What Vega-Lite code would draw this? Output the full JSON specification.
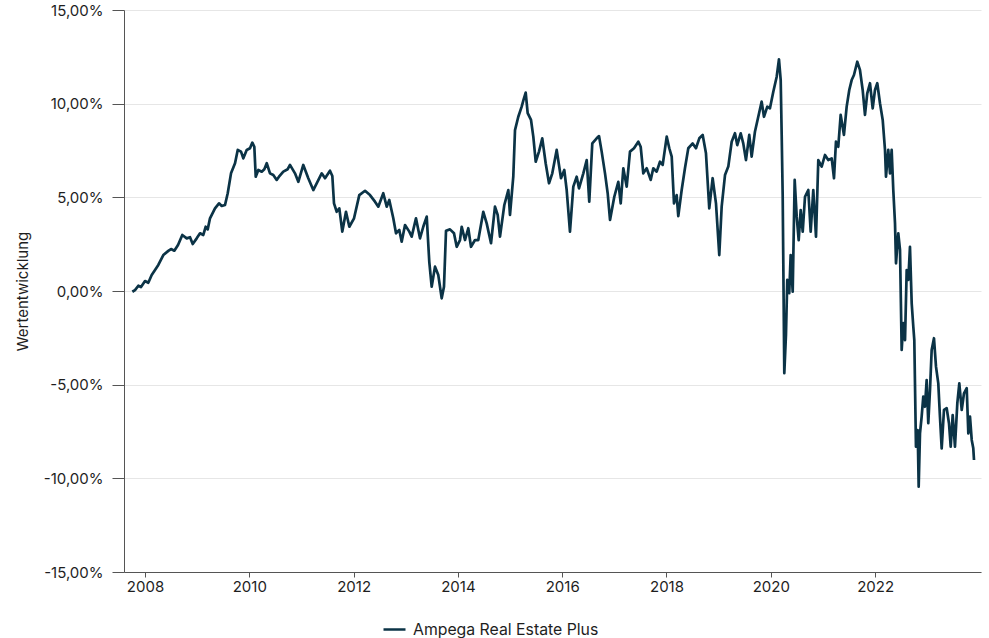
{
  "$schema": "https://vega.github.io/schema/vega-lite/v6.json",
  "width": 857,
  "height": 562,
  "autosize": {"type": "none"},
  "padding": {"left": 124, "top": 10, "right": 8, "bottom": 66},
  "background": "white",
  "config": {
    "font": "Inter",
    "view": {"stroke": null},
    "axis": {"labelFont": "Inter", "titleFont": "Inter", "labelFontSize": 15, "titleFontSize": 15, "labelColor": "#1e1e1e", "titleColor": "#1e1e1e", "domainColor": "#555555", "tickColor": "#555555", "titleFontWeight": "normal"},
    "legend": {"labelFont": "Inter", "labelFontSize": 15.8, "labelColor": "#1e1e1e", "labelLimit": 0}
  },
  "data": {"values": [
    {"jahr": 2007.757, "wert": -0.04}, {"jahr": 2007.808, "wert": 0.05}, {"jahr": 2007.872, "wert": 0.28}, {"jahr": 2007.923, "wert": 0.21},
    {"jahr": 2008.000, "wert": 0.53}, {"jahr": 2008.063, "wert": 0.44}, {"jahr": 2008.128, "wert": 0.85}, {"jahr": 2008.192, "wert": 1.12},
    {"jahr": 2008.255, "wert": 1.39}, {"jahr": 2008.351, "wert": 1.92}, {"jahr": 2008.447, "wert": 2.14}, {"jahr": 2008.499, "wert": 2.24},
    {"jahr": 2008.562, "wert": 2.15}, {"jahr": 2008.633, "wert": 2.46}, {"jahr": 2008.715, "wert": 2.99}, {"jahr": 2008.800, "wert": 2.81},
    {"jahr": 2008.863, "wert": 2.87}, {"jahr": 2008.915, "wert": 2.51}, {"jahr": 2008.991, "wert": 2.81}, {"jahr": 2009.055, "wert": 3.08},
    {"jahr": 2009.118, "wert": 2.99}, {"jahr": 2009.164, "wert": 3.43}, {"jahr": 2009.202, "wert": 3.29}, {"jahr": 2009.246, "wert": 3.88},
    {"jahr": 2009.342, "wert": 4.41}, {"jahr": 2009.419, "wert": 4.68}, {"jahr": 2009.471, "wert": 4.54}, {"jahr": 2009.534, "wert": 4.59},
    {"jahr": 2009.586, "wert": 5.22}, {"jahr": 2009.649, "wert": 6.28}, {"jahr": 2009.726, "wert": 6.82}, {"jahr": 2009.778, "wert": 7.53},
    {"jahr": 2009.841, "wert": 7.44}, {"jahr": 2009.885, "wert": 7.08}, {"jahr": 2009.950, "wert": 7.53}, {"jahr": 2010.013, "wert": 7.62},
    {"jahr": 2010.058, "wert": 7.92}, {"jahr": 2010.096, "wert": 7.70}, {"jahr": 2010.123, "wert": 6.10}, {"jahr": 2010.173, "wert": 6.46},
    {"jahr": 2010.238, "wert": 6.37}, {"jahr": 2010.288, "wert": 6.50}, {"jahr": 2010.334, "wert": 6.82}, {"jahr": 2010.397, "wert": 6.28},
    {"jahr": 2010.460, "wert": 6.19}, {"jahr": 2010.525, "wert": 5.93}, {"jahr": 2010.569, "wert": 6.10}, {"jahr": 2010.652, "wert": 6.37},
    {"jahr": 2010.736, "wert": 6.50}, {"jahr": 2010.780, "wert": 6.73}, {"jahr": 2010.876, "wert": 6.28}, {"jahr": 2010.940, "wert": 5.83},
    {"jahr": 2011.035, "wert": 6.73}, {"jahr": 2011.131, "wert": 6.02}, {"jahr": 2011.227, "wert": 5.39}, {"jahr": 2011.292, "wert": 5.75},
    {"jahr": 2011.388, "wert": 6.28}, {"jahr": 2011.452, "wert": 6.02}, {"jahr": 2011.547, "wert": 6.42}, {"jahr": 2011.592, "wert": 6.14},
    {"jahr": 2011.624, "wert": 4.68}, {"jahr": 2011.676, "wert": 4.23}, {"jahr": 2011.726, "wert": 4.41}, {"jahr": 2011.783, "wert": 3.17},
    {"jahr": 2011.854, "wert": 4.23}, {"jahr": 2011.918, "wert": 3.43}, {"jahr": 2012.008, "wert": 3.88}, {"jahr": 2012.109, "wert": 5.12},
    {"jahr": 2012.219, "wert": 5.35}, {"jahr": 2012.314, "wert": 5.12}, {"jahr": 2012.410, "wert": 4.77}, {"jahr": 2012.474, "wert": 4.50},
    {"jahr": 2012.569, "wert": 5.22}, {"jahr": 2012.635, "wert": 4.50}, {"jahr": 2012.684, "wert": 4.86}, {"jahr": 2012.761, "wert": 3.88},
    {"jahr": 2012.813, "wert": 3.08}, {"jahr": 2012.876, "wert": 3.26}, {"jahr": 2012.922, "wert": 2.63}, {"jahr": 2012.986, "wert": 3.52},
    {"jahr": 2013.068, "wert": 3.17}, {"jahr": 2013.114, "wert": 2.90}, {"jahr": 2013.196, "wert": 3.88}, {"jahr": 2013.273, "wert": 2.81},
    {"jahr": 2013.336, "wert": 3.43}, {"jahr": 2013.402, "wert": 3.97}, {"jahr": 2013.451, "wert": 1.56}, {"jahr": 2013.497, "wert": 0.23},
    {"jahr": 2013.561, "wert": 1.30}, {"jahr": 2013.624, "wert": 0.85}, {"jahr": 2013.689, "wert": -0.39}, {"jahr": 2013.733, "wert": 0.23},
    {"jahr": 2013.772, "wert": 3.22}, {"jahr": 2013.848, "wert": 3.29}, {"jahr": 2013.925, "wert": 3.08}, {"jahr": 2013.977, "wert": 2.36},
    {"jahr": 2014.040, "wert": 2.72}, {"jahr": 2014.073, "wert": 3.43}, {"jahr": 2014.136, "wert": 2.72}, {"jahr": 2014.199, "wert": 3.35},
    {"jahr": 2014.251, "wert": 2.36}, {"jahr": 2014.328, "wert": 2.72}, {"jahr": 2014.391, "wert": 2.72}, {"jahr": 2014.487, "wert": 4.23},
    {"jahr": 2014.552, "wert": 3.61}, {"jahr": 2014.635, "wert": 2.55}, {"jahr": 2014.711, "wert": 4.50}, {"jahr": 2014.763, "wert": 4.06},
    {"jahr": 2014.807, "wert": 2.90}, {"jahr": 2014.890, "wert": 4.59}, {"jahr": 2014.967, "wert": 5.39}, {"jahr": 2014.999, "wert": 4.06},
    {"jahr": 2015.062, "wert": 6.10}, {"jahr": 2015.095, "wert": 8.59}, {"jahr": 2015.158, "wert": 9.30}, {"jahr": 2015.223, "wert": 9.84},
    {"jahr": 2015.258, "wert": 10.20}, {"jahr": 2015.300, "wert": 10.59}, {"jahr": 2015.338, "wert": 9.49}, {"jahr": 2015.402, "wert": 9.13},
    {"jahr": 2015.446, "wert": 8.24}, {"jahr": 2015.492, "wert": 6.90}, {"jahr": 2015.555, "wert": 7.44}, {"jahr": 2015.618, "wert": 8.15},
    {"jahr": 2015.683, "wert": 6.82}, {"jahr": 2015.747, "wert": 5.75}, {"jahr": 2015.810, "wert": 6.28}, {"jahr": 2015.894, "wert": 7.53},
    {"jahr": 2015.977, "wert": 6.02}, {"jahr": 2016.040, "wert": 6.46}, {"jahr": 2016.086, "wert": 5.39}, {"jahr": 2016.149, "wert": 3.17},
    {"jahr": 2016.213, "wert": 5.57}, {"jahr": 2016.278, "wert": 6.10}, {"jahr": 2016.322, "wert": 5.48}, {"jahr": 2016.405, "wert": 6.28},
    {"jahr": 2016.470, "wert": 6.99}, {"jahr": 2016.519, "wert": 4.77}, {"jahr": 2016.577, "wert": 7.88}, {"jahr": 2016.661, "wert": 8.15},
    {"jahr": 2016.706, "wert": 8.27}, {"jahr": 2016.757, "wert": 7.44}, {"jahr": 2016.821, "wert": 6.28}, {"jahr": 2016.872, "wert": 5.22},
    {"jahr": 2016.917, "wert": 3.79}, {"jahr": 2016.999, "wert": 5.03}, {"jahr": 2017.076, "wert": 5.83}, {"jahr": 2017.122, "wert": 4.68},
    {"jahr": 2017.172, "wert": 6.55}, {"jahr": 2017.237, "wert": 5.57}, {"jahr": 2017.300, "wert": 7.44}, {"jahr": 2017.377, "wert": 7.62},
    {"jahr": 2017.459, "wert": 7.97}, {"jahr": 2017.505, "wert": 7.70}, {"jahr": 2017.555, "wert": 6.28}, {"jahr": 2017.620, "wert": 6.55},
    {"jahr": 2017.697, "wert": 5.93}, {"jahr": 2017.747, "wert": 6.55}, {"jahr": 2017.812, "wert": 6.37}, {"jahr": 2017.875, "wert": 6.90},
    {"jahr": 2017.927, "wert": 6.73}, {"jahr": 2018.004, "wert": 8.24}, {"jahr": 2018.054, "wert": 7.62}, {"jahr": 2018.100, "wert": 7.17},
    {"jahr": 2018.144, "wert": 4.68}, {"jahr": 2018.195, "wert": 5.12}, {"jahr": 2018.226, "wert": 4.00}, {"jahr": 2018.291, "wert": 5.39},
    {"jahr": 2018.354, "wert": 6.55}, {"jahr": 2018.418, "wert": 7.62}, {"jahr": 2018.502, "wert": 7.88}, {"jahr": 2018.565, "wert": 7.62},
    {"jahr": 2018.629, "wert": 8.15}, {"jahr": 2018.694, "wert": 8.33}, {"jahr": 2018.757, "wert": 7.35}, {"jahr": 2018.820, "wert": 4.41},
    {"jahr": 2018.885, "wert": 6.02}, {"jahr": 2018.949, "wert": 4.68}, {"jahr": 2019.012, "wert": 1.92}, {"jahr": 2019.058, "wert": 4.50},
    {"jahr": 2019.122, "wert": 6.19}, {"jahr": 2019.185, "wert": 6.64}, {"jahr": 2019.250, "wert": 7.97}, {"jahr": 2019.313, "wert": 8.42},
    {"jahr": 2019.357, "wert": 7.79}, {"jahr": 2019.423, "wert": 8.42}, {"jahr": 2019.472, "wert": 7.88}, {"jahr": 2019.524, "wert": 6.99},
    {"jahr": 2019.587, "wert": 8.33}, {"jahr": 2019.633, "wert": 7.17}, {"jahr": 2019.696, "wert": 8.50}, {"jahr": 2019.760, "wert": 9.30},
    {"jahr": 2019.825, "wert": 10.11}, {"jahr": 2019.869, "wert": 9.30}, {"jahr": 2019.933, "wert": 9.84}, {"jahr": 2019.984, "wert": 9.75},
    {"jahr": 2020.048, "wert": 10.64}, {"jahr": 2020.113, "wert": 11.44}, {"jahr": 2020.157, "wert": 12.37}, {"jahr": 2020.190, "wert": 11.26},
    {"jahr": 2020.209, "wert": 8.33}, {"jahr": 2020.228, "wert": 5.12}, {"jahr": 2020.240, "wert": 1.48}, {"jahr": 2020.259, "wert": -4.39},
    {"jahr": 2020.291, "wert": -2.35}, {"jahr": 2020.316, "wert": 0.59}, {"jahr": 2020.354, "wert": -0.12}, {"jahr": 2020.381, "wert": 1.92},
    {"jahr": 2020.420, "wert": -0.04}, {"jahr": 2020.458, "wert": 5.93}, {"jahr": 2020.497, "wert": 3.97}, {"jahr": 2020.535, "wert": 2.72},
    {"jahr": 2020.573, "wert": 4.32}, {"jahr": 2020.612, "wert": 3.17}, {"jahr": 2020.656, "wert": 5.03}, {"jahr": 2020.719, "wert": 5.39},
    {"jahr": 2020.765, "wert": 3.17}, {"jahr": 2020.815, "wert": 5.39}, {"jahr": 2020.867, "wert": 2.90}, {"jahr": 2020.911, "wert": 6.99},
    {"jahr": 2020.976, "wert": 6.64}, {"jahr": 2021.039, "wert": 7.26}, {"jahr": 2021.102, "wert": 6.99}, {"jahr": 2021.168, "wert": 7.08},
    {"jahr": 2021.212, "wert": 6.02}, {"jahr": 2021.250, "wert": 7.97}, {"jahr": 2021.294, "wert": 7.70}, {"jahr": 2021.340, "wert": 9.40},
    {"jahr": 2021.403, "wert": 8.33}, {"jahr": 2021.455, "wert": 9.84}, {"jahr": 2021.505, "wert": 10.73}, {"jahr": 2021.551, "wert": 11.26},
    {"jahr": 2021.595, "wert": 11.53}, {"jahr": 2021.658, "wert": 12.24}, {"jahr": 2021.710, "wert": 11.80}, {"jahr": 2021.762, "wert": 10.73},
    {"jahr": 2021.806, "wert": 9.40}, {"jahr": 2021.850, "wert": 10.55}, {"jahr": 2021.902, "wert": 11.09}, {"jahr": 2021.954, "wert": 9.75},
    {"jahr": 2021.998, "wert": 10.73}, {"jahr": 2022.042, "wert": 11.09}, {"jahr": 2022.094, "wert": 10.02}, {"jahr": 2022.146, "wert": 9.13},
    {"jahr": 2022.190, "wert": 7.53}, {"jahr": 2022.209, "wert": 6.10}, {"jahr": 2022.253, "wert": 7.53}, {"jahr": 2022.286, "wert": 6.28},
    {"jahr": 2022.318, "wert": 7.53}, {"jahr": 2022.349, "wert": 5.39}, {"jahr": 2022.382, "wert": 3.61}, {"jahr": 2022.401, "wert": 1.48},
    {"jahr": 2022.445, "wert": 3.08}, {"jahr": 2022.478, "wert": 2.19}, {"jahr": 2022.510, "wert": -3.15}, {"jahr": 2022.541, "wert": -1.72},
    {"jahr": 2022.574, "wert": -2.62}, {"jahr": 2022.606, "wert": 1.12}, {"jahr": 2022.637, "wert": 0.59}, {"jahr": 2022.669, "wert": 2.36},
    {"jahr": 2022.702, "wert": -0.66}, {"jahr": 2022.733, "wert": -1.91}, {"jahr": 2022.752, "wert": -2.62}, {"jahr": 2022.784, "wert": -8.31},
    {"jahr": 2022.817, "wert": -7.42}, {"jahr": 2022.836, "wert": -10.45}, {"jahr": 2022.861, "wert": -7.60}, {"jahr": 2022.893, "wert": -6.71},
    {"jahr": 2022.924, "wert": -5.64}, {"jahr": 2022.956, "wert": -6.18}, {"jahr": 2022.989, "wert": -4.75}, {"jahr": 2023.020, "wert": -7.06},
    {"jahr": 2023.053, "wert": -5.28}, {"jahr": 2023.085, "wert": -3.15}, {"jahr": 2023.129, "wert": -2.52}, {"jahr": 2023.168, "wert": -4.04},
    {"jahr": 2023.212, "wert": -4.93}, {"jahr": 2023.244, "wert": -6.71}, {"jahr": 2023.277, "wert": -8.40}, {"jahr": 2023.321, "wert": -6.35},
    {"jahr": 2023.373, "wert": -6.26}, {"jahr": 2023.417, "wert": -7.06}, {"jahr": 2023.450, "wert": -8.31}, {"jahr": 2023.488, "wert": -6.62},
    {"jahr": 2023.532, "wert": -8.31}, {"jahr": 2023.577, "wert": -5.99}, {"jahr": 2023.615, "wert": -4.93}, {"jahr": 2023.661, "wert": -6.35},
    {"jahr": 2023.705, "wert": -5.46}, {"jahr": 2023.757, "wert": -5.19}, {"jahr": 2023.788, "wert": -7.60}, {"jahr": 2023.820, "wert": -6.71},
    {"jahr": 2023.853, "wert": -7.95}, {"jahr": 2023.883, "wert": -8.40}, {"jahr": 2023.897, "wert": -9.02}
  ]},
  "mark": {"type": "line", "strokeWidth": 2.7, "strokeJoin": "round", "clip": true},
  "encoding": {
    "x": {
      "field": "jahr", "type": "quantitative",
      "scale": {"domain": [2007.597, 2024.031], "nice": false, "zero": false},
      "axis": {"title": null, "values": [2008, 2010, 2012, 2014, 2016, 2018, 2020, 2022], "format": "d", "grid": false, "tickSize": 5, "labelPadding": 2, "labelFlush": false}
    },
    "y": {
      "field": "wert", "type": "quantitative",
      "scale": {"domain": [-15, 15], "nice": false},
      "axis": {
        "title": "Wertentwicklung",
        "values": [-15, -10, -5, 0, 5, 10, 15],
        "labelExpr": "(datum.value < 0 ? '-' : '') + replace(format(abs(datum.value), '.2f'), '.', ',') + '%'",
        "grid": true, "gridColor": "#e6e6e6", "tickSize": 12, "labelPadding": 9,
        "titleX": -102, "titleY": 281, "titleAngle": -90, "titleAlign": "center", "titleBaseline": "middle"
      }
    },
    "color": {
      "datum": "Ampega Real Estate Plus",
      "scale": {"range": ["#0b3346"]},
      "legend": {"title": null, "orient": "none", "legendX": 258, "legendY": 607, "symbolType": "stroke", "symbolSize": 484, "symbolStrokeWidth": 2.5, "labelOffset": 6, "labelLimit": 0}
    }
  }
}
